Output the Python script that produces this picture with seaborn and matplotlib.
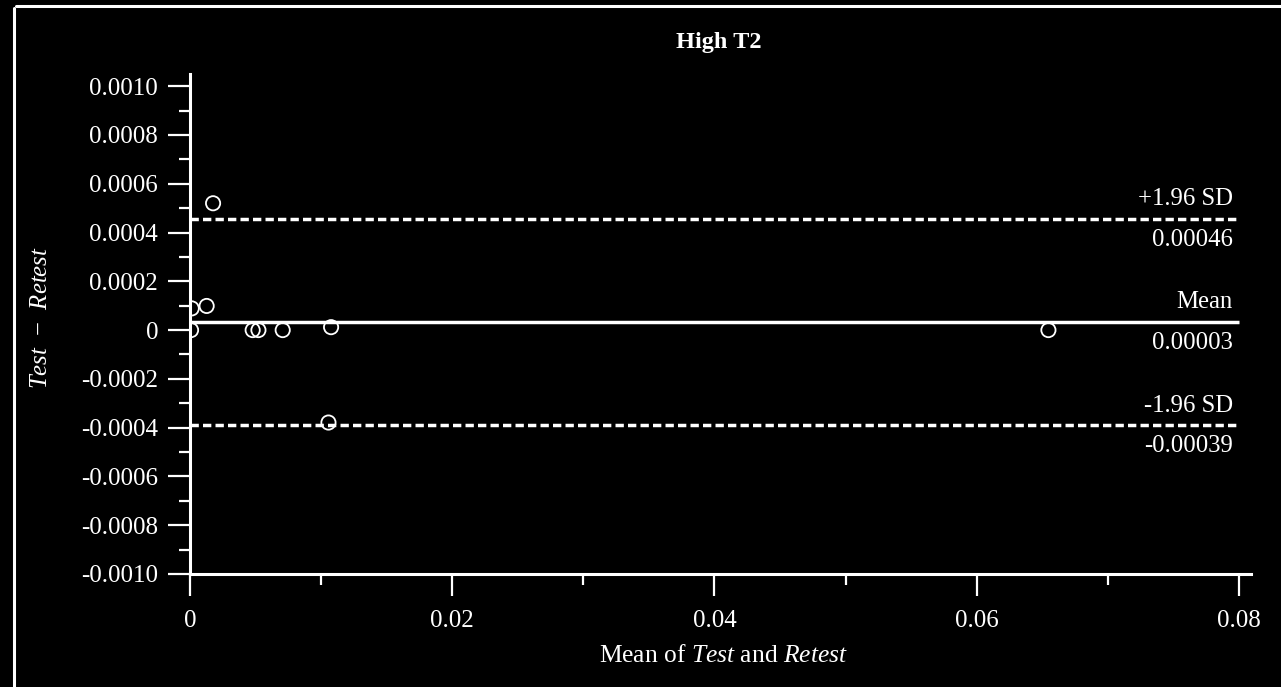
import matplotlib
matplotlib.use("Agg")
import matplotlib.pyplot as plt
import seaborn as sns
import pandas as pd
from matplotlib.lines import Line2D
from matplotlib.ticker import FixedLocator

# ---- data ----
mean_vals = [0.00176, 0.00013, 0.00127, 0.00008, 0.00478, 0.00522, 0.00707, 0.01076, 0.01056, 0.06547]
diff_vals = [0.00052, 0.000089, 0.000099, 0.0, 0.0, 0.0, 0.0, 0.000012, -0.000379, 0.0]
bias = 0.000034
upper_loa = 0.000456
lower_loa = -0.000390
bias_label = "0.00003"
upper_label = "0.00046"
lower_label = "-0.00039"
title = "High T2"
x_ticks = [0, 0.02, 0.04, 0.06, 0.08]
x_ticklabels = ["0", "0.02", "0.04", "0.06", "0.08"]
y_ticks = [-0.0010, -0.0008, -0.0006, -0.0004, -0.0002, 0, 0.0002, 0.0004, 0.0006, 0.0008, 0.0010]
y_ticklabels = ["-0.0010", "-0.0008", "-0.0006", "-0.0004", "-0.0002", "0",
                "0.0002", "0.0004", "0.0006", "0.0008", "0.0010"]

df = pd.DataFrame({"mean": mean_vals, "diff": diff_vals})

sns.set_theme(style="ticks")
plt.rcParams["font.family"] = ["Liberation Serif", "DejaVu Serif"]
plt.rcParams["mathtext.fontset"] = "custom"
plt.rcParams["mathtext.rm"] = "Liberation Serif"
plt.rcParams["mathtext.it"] = "Liberation Serif:italic"
plt.rcParams["mathtext.bf"] = "Liberation Serif:bold"

W, H = 1281, 687
fig = plt.figure(figsize=(W / 100, H / 100), dpi=100, facecolor="black")
ax = fig.add_axes([190 / W, 1 - 574 / H, (1251 - 190) / W, (574 - 74) / H])
ax.set_facecolor("black")

sns.scatterplot(data=df, x="mean", y="diff", ax=ax, s=105, facecolor="none",
                edgecolor="white", linewidth=1.3, zorder=4)

ax.hlines(bias, 0, 0.08, color="white", lw=2.5, zorder=3)
ax.hlines([upper_loa, lower_loa], 0, 0.08, color="white", lw=2.5,
          linestyles=(0, (2.4, 1.2)), zorder=3)

ax.set_xlim(0, 0.08092)
ax.set_ylim(-0.0010, 0.00105)

ax.xaxis.set_major_locator(FixedLocator(x_ticks))
ax.set_xticklabels(x_ticklabels)
ax.xaxis.set_minor_locator(FixedLocator([0.01, 0.03, 0.05, 0.07]))
ax.yaxis.set_major_locator(FixedLocator(y_ticks))
ax.set_yticklabels(y_ticklabels)
ax.yaxis.set_minor_locator(FixedLocator([-0.0009, -0.0007, -0.0005, -0.0003, -0.0001,
                                         0.0001, 0.0003, 0.0005, 0.0007, 0.0009]))

for s in ["top", "right"]:
    ax.spines[s].set_visible(False)
for s in ["left", "bottom"]:
    ax.spines[s].set_color("white")
    ax.spines[s].set_linewidth(2.2)

ax.tick_params(which="major", direction="out", length=16, width=1.6, colors="white",
               labelsize=18, labelcolor="white")
ax.tick_params(which="minor", direction="out", length=8, width=1.6, colors="white")
ax.tick_params(axis="y", which="major", pad=7)
ax.tick_params(axis="x", which="major", pad=10)
ax.set_xlabel("")
ax.set_ylabel("")

# labels on the right
tx = 0.07955
fs = 17.8
ax.text(tx, upper_loa + 0.000035, "+1.96 SD", color="white", fontsize=fs, ha="right", va="bottom")
ax.text(tx, upper_loa - 0.00004, upper_label, color="white", fontsize=fs, ha="right", va="top")
ax.text(tx, bias + 0.000035, "Mean", color="white", fontsize=fs, ha="right", va="bottom")
ax.text(tx, bias - 0.00004, bias_label, color="white", fontsize=fs, ha="right", va="top")
ax.text(tx, lower_loa + 0.000035, "-1.96 SD", color="white", fontsize=fs, ha="right", va="bottom")
ax.text(tx, lower_loa - 0.00004, lower_label, color="white", fontsize=fs, ha="right", va="top")

fig.text(719 / W, 1 - 48 / H, title, color="white", fontsize=17.5, fontweight="bold",
         ha="center", va="baseline")
fig.text(723 / W, 1 - 656 / H, r"Mean of $\mathit{Test}$ and $\mathit{Retest}$",
         color="white", fontsize=18.4, ha="center", va="center")
fig.text(41 / W, 1 - 318 / H, r"$\mathit{Test}$  $-$  $\mathit{Retest}$",
         color="white", fontsize=17.8, ha="center", va="center", rotation=90)

# frame lines
fig.add_artist(Line2D([13.5 / W, 13.5 / W], [0, 1 - 8 / H], transform=fig.transFigure,
                      color="white", lw=2.2))
fig.add_artist(Line2D([16 / W, 1], [1 - 6 / H, 1 - 6 / H], transform=fig.transFigure,
                      color="white", lw=2.2))

fig.savefig("out.png", dpi=100, facecolor="black")
